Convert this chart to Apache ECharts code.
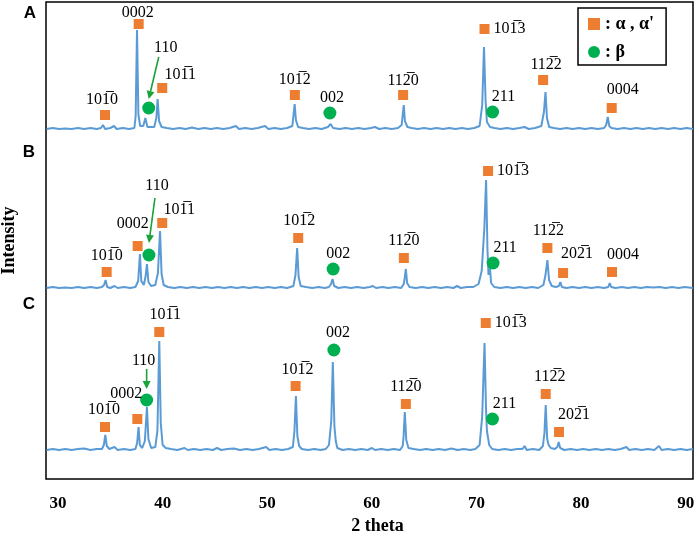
<!DOCTYPE html>
<html>
<head>
<meta charset="utf-8">
<script src="https://cdn.jsdelivr.net/npm/echarts@6/dist/echarts.min.js"></script>
<style>
html, body { margin: 0; padding: 0; background: #fff; }
#chart { width: 699px; height: 542px; }
</style>
</head>
<body>
<div id="chart"></div>
<script>
// x axis labels (2 theta)
const xTicks = [30, 40, 50, 60, 70, 80, 90];
const panelNames = ['A', 'B', 'C'];
// vertical shift of each pattern (a.u.)
const baselines = [349, 190, 28];

// patterns: [2 theta, intensity above own baseline]
const traceA = [[28.9,1],[29.5,2],[30.1,1],[30.7,1.5],[31.3,1],[31.9,2],[32.5,1],[33.1,2],[33.7,1],[34.1,2],[34.3,5],[34.5,1],[35.0,2],[35.35,4],[35.6,1],[36.2,2],[36.8,1],[37.3,2],[37.42,14],[37.55,100],[37.68,16],[37.85,4],[38.15,4],[38.35,12],[38.55,3],[39.2,3],[39.4,12],[39.52,31],[39.66,9],[39.9,3],[40.4,2],[41.0,1],[41.6,2],[42.2,1],[42.8,2.5],[43.4,1],[44.0,2],[44.6,1],[45.2,2],[45.8,1],[46.4,2],[47.0,4],[47.3,1],[47.9,2],[48.5,1],[49.1,2],[49.8,4],[50.1,1],[50.7,2],[51.3,1],[51.9,2],[52.4,4],[52.52,16],[52.62,26],[52.74,10],[52.95,3],[53.4,2],[54.0,1],[54.6,2],[55.2,1],[55.8,3],[56.05,6],[56.3,2],[56.9,1],[57.5,2],[58.1,1],[58.7,2],[59.3,1],[59.9,2],[60.3,3],[60.7,1],[61.3,2],[61.9,1],[62.5,2],[62.85,5],[62.96,16],[63.05,25],[63.16,9],[63.4,3],[63.8,2],[64.4,1],[65.0,2],[65.6,1],[66.2,2],[66.8,1],[67.4,2],[68.0,1],[68.6,2],[69.2,1],[69.8,2],[70.3,4],[70.55,25],[70.72,83],[70.87,30],[71.0,8],[71.12,10],[71.3,3],[71.7,2],[72.3,1],[72.9,2],[73.5,1],[74.1,2],[74.6,3],[75.0,1],[75.6,2],[76.2,4],[76.45,18],[76.6,38],[76.74,12],[76.95,3],[77.4,2],[78.0,1],[78.6,2],[79.2,1],[79.8,2],[80.4,1],[81.0,2],[81.6,1],[82.2,2],[82.4,5],[82.55,13],[82.7,4],[82.9,2],[83.5,1],[84.1,2],[84.7,1],[85.3,2],[85.9,1],[86.5,2],[87.1,1],[87.7,2],[88.3,1],[88.9,2],[89.5,1],[90.1,2],[90.7,1]];
const traceB = [[28.9,1],[29.5,2],[30.1,1],[30.7,1.5],[31.3,1],[31.9,2],[32.5,1],[33.1,2],[33.7,1],[34.2,2],[34.4,4],[34.55,9],[34.7,2],[35.0,1],[35.4,3],[35.7,1],[36.3,2],[36.9,1],[37.4,2],[37.66,8],[37.83,35],[37.96,8],[38.2,4],[38.36,12],[38.5,25],[38.64,7],[38.9,3],[39.3,4],[39.55,16],[39.75,58],[39.9,15],[40.1,4],[40.5,2],[41.1,1],[41.7,2],[42.3,1],[42.9,2],[43.5,1],[44.1,2],[44.7,1],[45.3,2],[45.9,1],[46.5,2],[47.1,1],[47.7,2],[48.3,1],[48.9,2],[49.5,1],[50.1,2],[50.7,1],[51.3,2],[51.9,1],[52.5,3],[52.7,14],[52.86,41],[53.0,12],[53.2,3],[53.7,2],[54.3,1],[54.9,2],[55.5,1],[55.9,2],[56.1,5],[56.24,10],[56.4,3],[56.8,1],[57.4,2],[58.0,1],[58.6,2],[59.2,1],[59.8,2],[60.1,3],[60.4,1],[61.0,2],[61.6,1],[62.2,2],[62.8,1],[63.05,5],[63.14,11],[63.25,20],[63.37,6],[63.6,2],[64.2,1],[64.8,2],[65.4,1],[66.0,2],[66.6,1],[67.2,2],[67.8,1],[68.15,3],[68.5,1],[69.1,2],[69.7,2],[70.2,5],[70.5,18],[70.75,60],[70.92,109],[71.05,40],[71.15,14],[71.27,24],[71.4,6],[71.7,2],[72.3,1],[72.9,2],[73.5,1],[74.1,2],[74.7,1],[75.3,2],[75.9,1],[76.4,4],[76.6,14],[76.78,29],[76.94,9],[77.2,3],[77.6,2],[77.88,3],[78.02,7],[78.16,2],[78.6,1],[79.2,2],[79.8,1],[80.4,2],[81.0,1],[81.6,2],[82.2,1],[82.6,2],[82.74,6],[82.88,2],[83.3,1],[83.9,2],[84.5,1],[85.1,2],[85.7,1],[86.3,2],[86.9,1.5],[87.5,2],[88.1,1],[88.7,2],[89.3,1],[89.9,2],[90.7,1]];
const traceC = [[28.9,1],[29.5,2],[30.1,1],[30.7,2],[31.3,1],[31.9,2],[32.5,2.5],[33.1,1],[33.7,2],[34.2,2],[34.38,6],[34.52,16],[34.66,5],[34.9,2],[35.4,4],[35.7,1],[36.3,2],[36.9,1],[37.4,2],[37.56,8],[37.7,24],[37.82,6],[38.05,3],[38.3,10],[38.5,44],[38.64,12],[38.9,3],[39.3,4],[39.5,20],[39.68,110],[39.82,28],[40.0,6],[40.3,3],[40.8,2],[41.4,1],[42.1,3],[42.4,1],[43.0,2],[43.6,1],[44.2,2],[44.8,1],[45.2,3],[45.6,1],[46.2,2],[46.8,2.5],[47.4,1],[48.0,2],[48.6,1],[49.2,2],[49.9,4],[50.2,1],[50.8,2],[51.4,1],[52.0,2],[52.45,4],[52.6,20],[52.74,55],[52.88,15],[53.05,5],[53.3,2],[53.9,1],[54.5,2],[55.1,1],[55.6,2],[55.9,6],[56.12,30],[56.27,89],[56.42,25],[56.55,10],[56.7,3],[57.2,1],[57.8,2],[58.4,1],[59.0,2],[59.6,1],[60.0,3],[60.3,1],[60.9,2],[61.5,1],[62.1,2],[62.7,1],[62.95,5],[63.03,14],[63.15,39],[63.29,11],[63.5,3],[64.0,2],[64.6,1],[65.2,2],[65.8,1],[66.4,2],[67.0,1],[67.6,2.5],[68.2,1],[68.8,2],[69.4,1],[69.9,2],[70.3,6],[70.55,35],[70.77,108],[70.92,40],[71.0,20],[71.1,19],[71.22,6],[71.5,2],[72.1,1],[72.7,2],[73.3,1],[73.9,2],[74.4,2],[74.6,5],[74.8,1],[75.4,2],[76.0,1],[76.35,5],[76.5,18],[76.62,46],[76.76,12],[76.9,6],[77.1,3],[77.5,2],[77.73,4],[77.86,9],[78.0,3],[78.4,1],[79.0,2],[79.6,1],[80.2,2],[80.8,1],[81.4,2],[82.0,1],[82.6,2],[83.2,1],[83.8,2],[84.33,4],[84.6,1],[85.2,2],[85.8,1],[86.4,2],[87.0,1],[87.45,5],[87.7,1],[88.3,2],[88.9,1],[89.5,2],[90.1,1],[90.7,2]];

// peak markers: [2 theta, height above baseline, plane, phase]
const peaksA = [[34.49,15,'101\u03050','α'],[37.71,106,'0002','α'],[38.67,22,'110','β'],[39.96,42,'101\u03051','α'],[52.64,35,'101\u03052','α'],[55.99,17,'002','β'],[62.99,35,'112\u03050','α'],[70.77,101,'101\u03053','α'],[71.54,18,'211','β'],[76.37,50,'112\u03052','α'],[82.93,22,'0004','α']];
const peaksB = [[34.65,17,'101\u03050','α'],[37.61,43,'0002','α'],[38.69,34,'110','β'],[39.96,66,'101\u03051','α'],[52.96,51,'101\u03052','α'],[56.30,20,'002','β'],[63.06,31,'112\u03050','α'],[71.11,118,'101\u03053','α'],[71.59,26,'211','β'],[76.78,41,'112\u03052','α'],[78.28,16,'202\u03051','α'],[82.96,17,'0004','α']];
const peaksC = [[34.49,24,'101\u03050','α'],[37.58,32,'0002','α'],[38.47,51,'110','β'],[39.68,119,'101\u03051','α'],[52.71,65,'101\u03052','α'],[56.37,101,'002','β'],[63.25,47,'112\u03050','α'],[70.89,128,'101\u03053','α'],[71.53,32,'211','β'],[76.62,57,'112\u03052','α'],[77.89,19,'202\u03051','α']];

const alphaName = ': α , α\'';
const betaName = ': β';

// label placement (px, relative to marker centre), same order as the peaks
const labelShift = [
	[[-3,-15],[-1,-11],[17,-60],[18,-13],[0,-15],[2,-15],[0,-14],'right',[11,-15],[3,-15],[11,-18]],
	[[0,-16],[-5,-22],[8,-69],[17,-13],[1,-17],[5,-15],[0,-17],'right',[12,-15],[1,-17],[14,-19],[11,-17]],
	[[-1,-17],[-11,-25],[-3,-39],[6,-17],[2,-16],[4,-17],[0,-17],'right',[12,-15],[4,-17],[15,-17]]
];
// green arrows for the 110 peak: start and end offsets (px) from the marker
const arrowShift = [[[10,-51],[0,-9]], [[6,-57],[0,-12]], [[0,-31],[0,-11]]];

const traces = [traceA, traceB, traceC];
const peaks = [peaksA, peaksB, peaksC];
const serif = '"Liberation Serif", "Times New Roman", serif';

const chart = echarts.init(document.getElementById('chart'));

const lineSeries = traces.map((t, i) => ({
	type: 'line',
	data: t.map((p) => [p[0], p[1] + baselines[i]]),
	showSymbol: false,
	symbol: 'none',
	silent: true,
	lineStyle: { color: '#5B9BD5', width: 2 },
	z: 2,
}));

const markerData = { 'α': [], 'β': [] };
peaks.forEach((list, i) => {
	list.forEach((p, j) => {
		const s = labelShift[i][j];
		const label = s === 'right'
			? { position: 'right', distance: 4 }
			: { position: 'inside', offset: s };
		markerData[p[3]].push({ name: p[2], value: [p[0], p[1] + baselines[i]], label: label });
	});
});

const labelStyle = {
	show: true,
	formatter: '{b}',
	fontFamily: serif,
	fontSize: 16,
	color: '#000',
};

chart.setOption({
	animation: false,
	grid: { left: 46, right: 6, top: 2, bottom: 63, outerBoundsMode: 'none', containLabel: false, show: true, borderColor: '#000', borderWidth: 1.5 },
	legend: {
		data: [{ name: alphaName, icon: 'rect' }, { name: betaName, icon: 'circle' }],
		orient: 'vertical',
		left: 578,
		top: 8,
		itemWidth: 12,
		itemHeight: 12,
		itemGap: 10,
		padding: [7, 12, 4, 10],
		borderColor: '#000',
		borderWidth: 1.5,
		backgroundColor: '#fff',
		textStyle: { fontFamily: serif, fontWeight: 'bold', fontSize: 18, color: '#000', lineHeight: 18 },
	},
	xAxis: {
		type: 'value',
		min: 28.85,
		max: 90.7,
		name: '2 theta',
		nameLocation: 'middle',
		nameGap: 38,
		nameTextStyle: { fontFamily: serif, fontWeight: 'bold', fontSize: 18, color: '#000', padding: [0, 0, 0, 16] },
		axisLine: { show: false },
		axisTick: { show: false },
		splitLine: { show: false },
		axisLabel: {
			customValues: xTicks,
			margin: 16,
			fontFamily: serif,
			fontWeight: 'bold',
			fontSize: 17,
			color: '#000',
		},
	},
	yAxis: {
		type: 'value',
		min: 0,
		max: 477,
		name: 'Intensity',
		nameLocation: 'middle',
		nameGap: 28,
		nameTextStyle: { fontFamily: serif, fontWeight: 'bold', fontSize: 18, color: '#000' },
		axisLine: { show: false },
		axisTick: { show: false },
		axisLabel: { show: false },
		splitLine: { show: false },
	},
	series: lineSeries.concat([{
		name: alphaName,
		type: 'scatter',
		symbol: 'rect',
		symbolSize: 10,
		itemStyle: { color: '#ED7D31', opacity: 1 },
		label: labelStyle,
		data: markerData['α'],
		z: 5,
	}, {
		name: betaName,
		type: 'scatter',
		symbol: 'circle',
		symbolSize: 13,
		itemStyle: { color: '#00B050', opacity: 1 },
		label: labelStyle,
		data: markerData['β'],
		z: 5,
	}]),
});

// panel letters and arrows to the 110 peaks
const graphics = [];
const letterPos = [[30, 13], [29, 152], [29, 304]];
panelNames.forEach((n, i) => {
	graphics.push({
		type: 'text',
		id: 'letter' + n,
		x: letterPos[i][0],
		y: letterPos[i][1],
		style: { text: n, font: 'bold 17px "Liberation Sans", Arial, sans-serif', fill: '#000', align: 'center', verticalAlign: 'middle' },
	});
	const p = peaks[i].find((q) => q[2] === '110');
	const c = chart.convertToPixel({ xAxisIndex: 0, yAxisIndex: 0 }, [p[0], p[1] + baselines[i]]);
	const a = arrowShift[i];
	const x1 = c[0] + a[0][0], y1 = c[1] + a[0][1];
	const x2 = c[0] + a[1][0], y2 = c[1] + a[1][1];
	const len = Math.hypot(x2 - x1, y2 - y1);
	const ux = (x2 - x1) / len, uy = (y2 - y1) / len;
	const head = 8, half = 4;
	const bx = x2 - ux * head, by = y2 - uy * head;
	graphics.push({
		type: 'line',
		id: 'arrowLine' + n,
		shape: { x1: x1, y1: y1, x2: bx, y2: by },
		style: { stroke: '#1BA23A', lineWidth: 1.6 },
		z: 10,
	});
	graphics.push({
		type: 'polygon',
		id: 'arrowHead' + n,
		shape: { points: [[x2, y2], [bx - uy * half, by + ux * half], [bx + uy * half, by - ux * half]] },
		style: { fill: '#1BA23A' },
		z: 10,
	});
});
chart.setOption({ graphic: graphics });
</script>
</body>
</html>
